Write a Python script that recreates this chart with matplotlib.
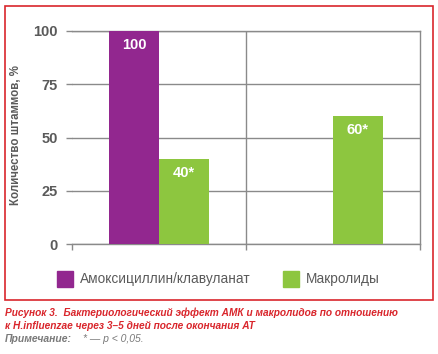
import matplotlib.pyplot as plt
import numpy as np
from matplotlib.patches import Rectangle

# Data
groups = [0, 1]
amox_values = [100, 0]
macro_values = [40, 60]
amox_labels = ['100', '']
macro_labels = ['40*', '60*']
series_names = ['Амоксициллин/клавуланат', 'Макролиды']
y_ticks = [0, 25, 50, 75, 100]

purple = '#92278f'
green = '#8dc63f'
grid_gray = '#8a8a8a'
text_gray = '#5a5a5a'
red = '#d9262c'

plt.rcParams['font.family'] = ['Liberation Sans', 'DejaVu Sans']

fig = plt.figure(figsize=(4.38, 3.54), dpi=100)
ax = fig.add_axes([72 / 438, 1 - 244 / 354, 348 / 438, 213 / 354])

width = 0.287
x = np.array(groups)
bars1 = ax.bar(x - width / 2, amox_values, width, color=purple, zorder=3)
bars2 = ax.bar(x + width / 2, macro_values, width, color=green, zorder=3)

for bars, labels in ((bars1, amox_labels), (bars2, macro_labels)):
    for b, lab in zip(bars, labels):
        if lab:
            ax.text(b.get_x() + b.get_width() / 2, b.get_height() - 6.5, lab,
                    ha='center', va='center', color='white', fontsize=10.5,
                    fontweight='bold', zorder=4)

ax.set_xlim(-0.5, 1.5)
ax.set_ylim(0, 100)
ax.set_yticks(y_ticks)
ax.set_xticks([-0.5, 0.5, 1.5])
ax.set_xticklabels([])
ax.yaxis.grid(True, color=grid_gray, lw=1, zorder=1)
ax.axvline(0.5, color=grid_gray, lw=1, zorder=1)
ax.tick_params(axis='y', length=4, width=1, color=grid_gray, labelsize=10.5,
               labelcolor=text_gray, pad=6)
ax.tick_params(axis='x', length=4, width=1, color=grid_gray)
for lab in ax.get_yticklabels():
    lab.set_fontweight('bold')
ax.spines['left'].set_visible(False)
for s in ('top', 'right', 'bottom'):
    ax.spines[s].set_color(grid_gray)
    ax.spines[s].set_linewidth(1)

ax.set_ylabel('Количество штаммов, %', color=text_gray, fontsize=8.3,
              fontweight='bold')
ax.yaxis.set_label_coords((22 - 72) / 348, 0.51)

# Legend
for xpos, col, name in ((57, purple, series_names[0]), (283, green, series_names[1])):
    fig.patches.append(Rectangle((xpos / 438, 1 - 287 / 354), 16 / 438, 16 / 354,
                                 transform=fig.transFigure, color=col))
    fig.text((xpos + 23) / 438, 1 - 279 / 354, name, color=text_gray,
             fontsize=9.8, va='center', ha='left')

# Frame
fig.patches.append(Rectangle((5 / 438, 1 - 300 / 354), 428 / 438, 294 / 354,
                             transform=fig.transFigure, fill=False,
                             edgecolor=red, lw=1.2))

# Caption
fig.text(5 / 438, 1 - 313 / 354, 'Рисунок 3.  Бактериологический эффект АМК и макролидов по отношению',
         color=red, fontsize=7.3, fontweight='bold', style='italic', va='center')
fig.text(5 / 438, 1 - 326 / 354, 'к H.influenzae через 3–5 дней после окончания АТ',
         color=red, fontsize=7.3, fontweight='bold', style='italic', va='center')
fig.text(5 / 438, 1 - 339 / 354, 'Примечание:', color='#7a7a7a', fontsize=7.5,
         fontweight='bold', style='italic', va='center')
fig.text(83 / 438, 1 - 339 / 354, '* — p < 0,05.', color='#7a7a7a', fontsize=7.5,
         style='italic', va='center')

fig.savefig('out.png', dpi=100)
